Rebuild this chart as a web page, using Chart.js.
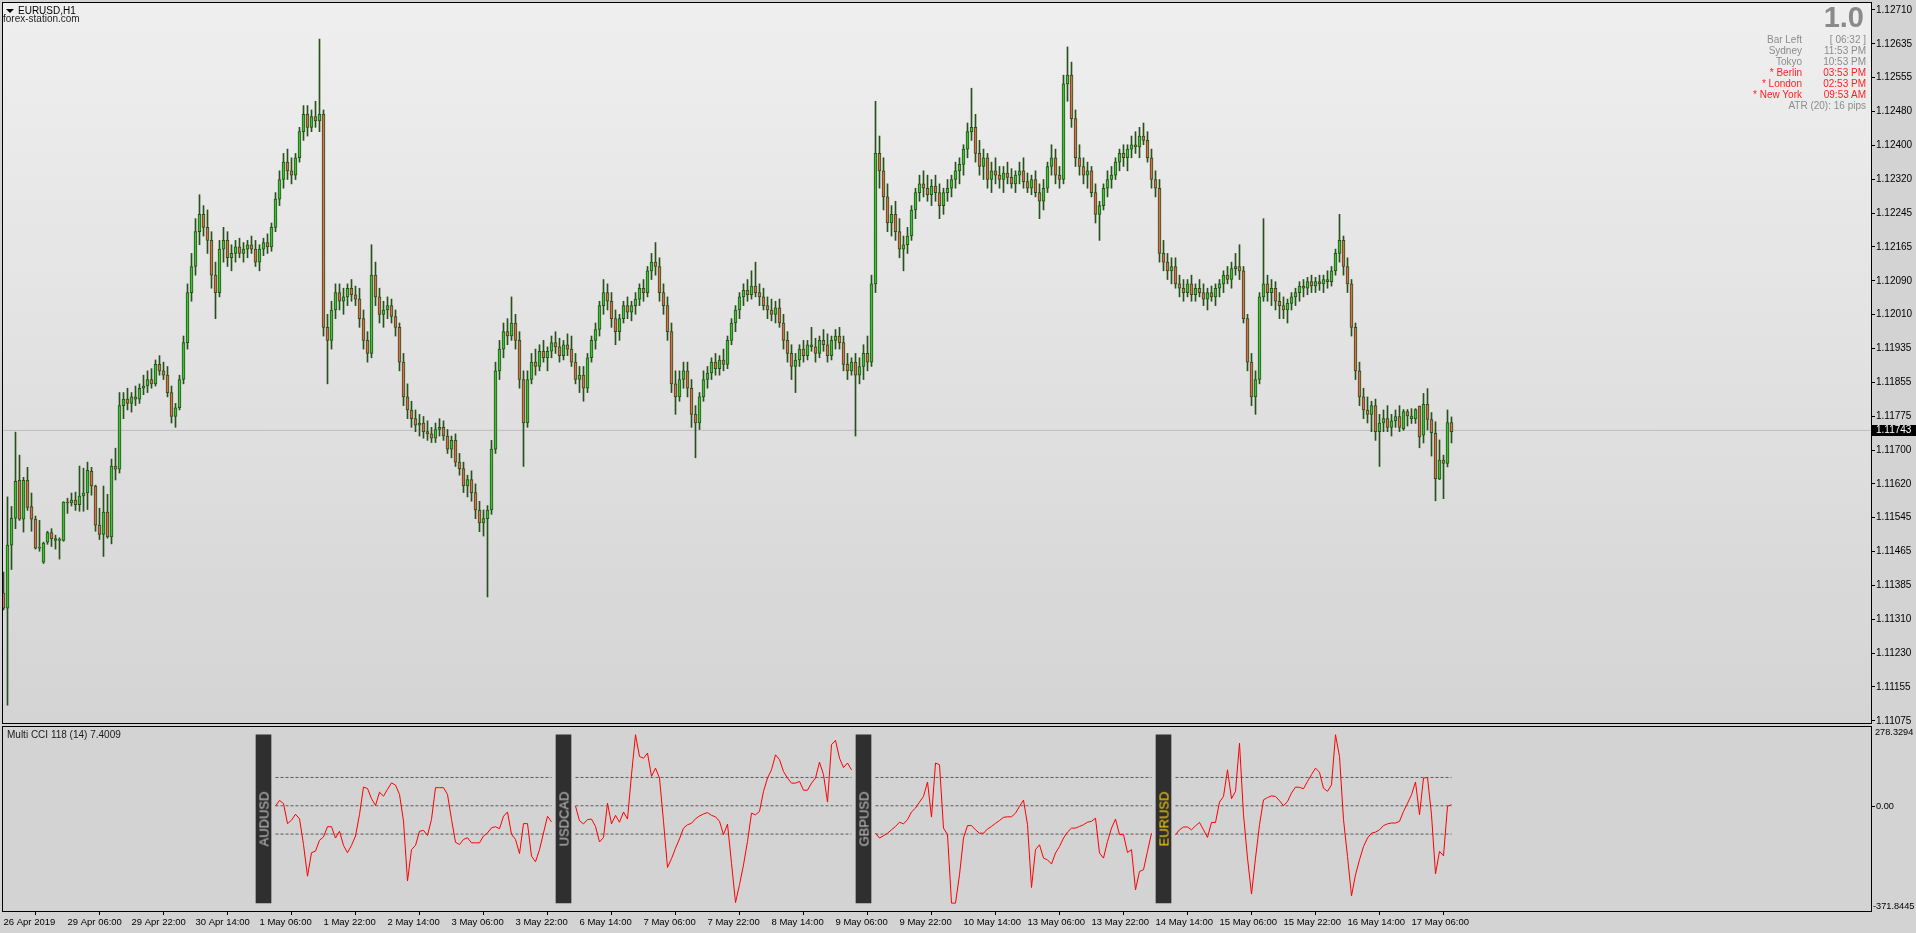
<!DOCTYPE html>
<html lang="en">
<head>
<meta charset="UTF-8" />
<title>EURUSD,H1</title>
<script src="https://cdn.jsdelivr.net/npm/chart.js"></script>
<style>
  body {
    margin: 0;
    width: 1916px;
    height: 933px;
    overflow: hidden;
    position: relative;
    background: #d3d3d3;
    font-family: 'Liberation Sans', Arial, sans-serif;
  }
  #mainBox { position: absolute; left: 0; top: 0; width: 1916px; height: 724px; }
  #subBox { position: absolute; left: 0; top: 724px; width: 1916px; height: 209px; }
  .txt { position: absolute; font-size: 10px; line-height: 11px; white-space: nowrap; }
  #tri {
    position: absolute; left: 6px; top: 9px; width: 0; height: 0;
    border-left: 4px solid transparent; border-right: 4px solid transparent; border-top: 4px solid #000;
  }
  #bigNum {
    position: absolute; right: 52px; top: 3px;
    font: bold 29px/29px 'Liberation Sans', Arial, sans-serif; color: #8a8a8a;
  }
  #clock { position: absolute; left: 1700px; top: 34px; width: 166px; }
  #clock .row { position: relative; height: 11px; font-size: 10px; line-height: 11px; white-space: nowrap; }
  #clock .lbl { position: absolute; right: 64px; }
  #clock .val { position: absolute; right: 0; }
  .grey { color: #8c8c8c; }
  .red { color: #ff1f1f; }
  .pair {
    position: absolute; font-size: 13px; line-height: 13px; white-space: nowrap;
    transform: translate(-50%, -50%) rotate(-90deg);
  }
</style>
</head>
<body>

<div id="mainBox"><canvas id="mainChart" width="1916" height="724"></canvas></div>
<div id="subBox"><canvas id="subChart" width="1916" height="209"></canvas></div>

<div id="tri"></div>
<div class="txt" style="left:18px; top:5px; color:#000;">EURUSD,H1</div>
<div class="txt" style="left:3px; top:13px; color:#1e1e1e;">forex-station.com</div>

<div id="bigNum">1.0</div>
<div id="clock">
  <div class="row grey"><span class="lbl">Bar Left</span><span class="val">[ 06:32 ]</span></div>
  <div class="row grey"><span class="lbl">Sydney</span><span class="val">11:53 PM</span></div>
  <div class="row grey"><span class="lbl">Tokyo</span><span class="val">10:53 PM</span></div>
  <div class="row red"><span class="lbl">* Berlin</span><span class="val">03:53 PM</span></div>
  <div class="row red"><span class="lbl">* London</span><span class="val">02:53 PM</span></div>
  <div class="row red"><span class="lbl">* New York</span><span class="val">09:53 AM</span></div>
  <div class="row grey"><span class="val">ATR (20): 16 pips</span></div>
</div>

<div class="txt" style="left:7px; top:729px; color:#1a1a1a;">Multi CCI 118 (14) 7.4009</div>

<script>
  // ---- price axis / time axis ----
  const priceLabels = ['1.12710','1.12635','1.12555','1.12480','1.12400','1.12320','1.12245','1.12165','1.12090','1.12010','1.11935',
                       '1.11855','1.11775','1.11700','1.11620','1.11545','1.11465','1.11385','1.11310','1.11230','1.11155','1.11075'];
  const priceMin = 1.11070;
  const priceMax = 1.12726;
  const bidPrice = 1.11743;

  const timeLabels = ['26 Apr 2019','29 Apr 06:00','29 Apr 22:00','30 Apr 14:00','1 May 06:00','1 May 22:00','2 May 14:00','3 May 06:00',
                      '3 May 22:00','6 May 14:00','7 May 06:00','7 May 22:00','8 May 14:00','9 May 06:00','9 May 22:00','10 May 14:00',
                      '13 May 06:00','13 May 22:00','14 May 14:00','15 May 06:00','15 May 22:00','16 May 14:00','17 May 06:00'];
  const tickBars = [0,16,32,48,64,80,96,112,128,144,160,176,192,208,224,240,256,272,288,304,320,336,352];

  // ---- EURUSD H1 candles (bar 0 = 26 Apr 14:00) ----
  const opens = [
    1.11369,1.11334,1.11479,1.11541,1.11628,1.11539,1.11628,1.11568,1.11539,1.11472,
    1.11440,1.11486,1.11508,1.11494,1.11490,1.11490,1.11578,1.11576,1.11583,1.11572,
    1.11592,1.11599,1.11649,1.11615,1.11525,1.11504,1.11555,1.11498,1.11661,1.11654,
    1.11800,1.11815,1.11805,1.11820,1.11815,1.11840,1.11845,1.11860,1.11850,1.11895,
    1.11880,1.11870,1.11830,1.11775,1.11795,1.11860,1.11945,1.12060,1.12120,1.12200,
    1.12240,1.12210,1.12180,1.12100,1.12060,1.12160,1.12180,1.12140,1.12150,1.12165,
    1.12150,1.12160,1.12170,1.12160,1.12130,1.12160,1.12175,1.12165,1.12210,1.12275,
    1.12320,1.12360,1.12340,1.12330,1.12370,1.12430,1.12470,1.12440,1.12465,1.12455,
    1.12470,1.11980,1.11950,1.12020,1.12060,1.12040,1.12050,1.12070,1.12055,1.12045,
    1.12000,1.11950,1.11920,1.12100,1.12050,1.12010,1.12020,1.12030,1.12005,1.11980,
    1.11900,1.11820,1.11790,1.11770,1.11755,1.11760,1.11740,1.11735,1.11725,1.11745,
    1.11750,1.11730,1.11700,1.11720,1.11670,1.11655,1.11615,1.11630,1.11600,1.11560,
    1.11530,1.11540,1.11560,1.11700,1.11880,1.11930,1.11970,1.11960,1.11990,1.11950,
    1.11860,1.11760,1.11860,1.11900,1.11890,1.11925,1.11910,1.11925,1.11945,1.11935,
    1.11915,1.11940,1.11930,1.11900,1.11860,1.11870,1.11840,1.11910,1.11950,1.11975,
    1.12030,1.12060,1.12040,1.12000,1.11970,1.12000,1.12030,1.12015,1.12030,1.12045,
    1.12070,1.12060,1.12110,1.12130,1.12120,1.12060,1.12030,1.11970,1.11850,1.11820,
    1.11860,1.11880,1.11840,1.11780,1.11760,1.11820,1.11860,1.11875,1.11900,1.11885,
    1.11905,1.11895,1.11950,1.11990,1.12020,1.12050,1.12065,1.12055,1.12075,1.12060,
    1.12050,1.12030,1.12020,1.12010,1.12025,1.11990,1.11950,1.11920,1.11890,1.11905,
    1.11930,1.11915,1.11940,1.11935,1.11920,1.11950,1.11940,1.11915,1.11950,1.11960,
    1.11945,1.11895,1.11880,1.11900,1.11870,1.11890,1.11920,1.11900,1.12080,1.12380,
    1.12340,1.12280,1.12220,1.12240,1.12200,1.12160,1.12170,1.12190,1.12250,1.12290,
    1.12310,1.12300,1.12285,1.12305,1.12290,1.12260,1.12290,1.12300,1.12320,1.12340,
    1.12355,1.12390,1.12430,1.12440,1.12380,1.12350,1.12370,1.12320,1.12340,1.12330,
    1.12320,1.12335,1.12325,1.12310,1.12330,1.12340,1.12315,1.12300,1.12320,1.12290,
    1.12270,1.12300,1.12350,1.12370,1.12330,1.12320,1.12540,1.12560,1.12460,1.12370,
    1.12350,1.12330,1.12340,1.12290,1.12240,1.12260,1.12300,1.12320,1.12330,1.12360,
    1.12380,1.12370,1.12390,1.12400,1.12395,1.12420,1.12410,1.12370,1.12320,1.12300,
    1.12150,1.12130,1.12110,1.12120,1.12080,1.12070,1.12060,1.12080,1.12055,1.12070,
    1.12060,1.12045,1.12060,1.12050,1.12070,1.12080,1.12100,1.12090,1.12115,1.12120,
    1.12110,1.12000,1.11900,1.11820,1.11860,1.12050,1.12080,1.12060,1.12070,1.12040,
    1.12030,1.12020,1.12035,1.12050,1.12060,1.12075,1.12070,1.12085,1.12075,1.12085,
    1.12080,1.12090,1.12085,1.12110,1.12150,1.12180,1.12120,1.12080,1.11980,1.11880,
    1.11820,1.11790,1.11780,1.11800,1.11740,1.11760,1.11770,1.11750,1.11765,1.11775,
    1.11747,1.11786,1.11770,1.11770,1.11799,1.11732,1.11803,1.11768,1.11736,1.11631,
    1.11675,1.11667,1.11761
  ];
  const highs = [
    1.11417,1.11590,1.11568,1.11739,1.11686,1.11635,1.11658,1.11599,1.11546,1.11536,
    1.11486,1.11511,1.11517,1.11502,1.11496,1.11579,1.11587,1.11599,1.11601,1.11661,
    1.11656,1.11670,1.11658,1.11617,1.11564,1.11615,1.11596,1.11677,1.11702,1.11830,
    1.11830,1.11840,1.11830,1.11845,1.11850,1.11870,1.11880,1.11885,1.11905,1.11915,
    1.11900,1.11890,1.11845,1.11805,1.11870,1.11960,1.12080,1.12150,1.12230,1.12285,
    1.12260,1.12250,1.12200,1.12130,1.12180,1.12210,1.12200,1.12170,1.12180,1.12185,
    1.12175,1.12180,1.12190,1.12180,1.12170,1.12185,1.12195,1.12220,1.12290,1.12340,
    1.12380,1.12390,1.12370,1.12380,1.12440,1.12490,1.12490,1.12480,1.12500,1.12643,
    1.12480,1.12010,1.12040,1.12080,1.12080,1.12070,1.12080,1.12090,1.12075,1.12070,
    1.12020,1.11970,1.12170,1.12130,1.12070,1.12040,1.12050,1.12045,1.12020,1.11990,
    1.11920,1.11850,1.11810,1.11790,1.11780,1.11775,1.11765,1.11750,1.11760,1.11770,
    1.11765,1.11745,1.11730,1.11735,1.11690,1.11670,1.11640,1.11650,1.11620,1.11580,
    1.11560,1.11570,1.11720,1.11900,1.11950,1.11990,1.12000,1.12050,1.12010,1.11970,
    1.11880,1.11880,1.11920,1.11930,1.11940,1.11950,1.11935,1.11960,1.11970,1.11955,
    1.11950,1.11965,1.11960,1.11920,1.11890,1.11890,1.11920,1.11960,1.11990,1.12040,
    1.12090,1.12080,1.12060,1.12020,1.12010,1.12040,1.12050,1.12040,1.12060,1.12080,
    1.12090,1.12120,1.12150,1.12175,1.12140,1.12080,1.12050,1.11990,1.11880,1.11880,
    1.11900,1.11900,1.11860,1.11800,1.11830,1.11880,1.11890,1.11910,1.11920,1.11915,
    1.11930,1.11960,1.12000,1.12030,1.12060,1.12080,1.12090,1.12110,1.12130,1.12080,
    1.12070,1.12050,1.12045,1.12040,1.12045,1.12010,1.11970,1.11940,1.11920,1.11940,
    1.11950,1.11950,1.11980,1.11955,1.11960,1.11975,1.11965,1.11960,1.11975,1.11980,
    1.11960,1.11920,1.11910,1.11920,1.11910,1.11940,1.11960,1.12100,1.12500,1.12420,
    1.12370,1.12310,1.12260,1.12270,1.12230,1.12190,1.12210,1.12260,1.12300,1.12330,
    1.12340,1.12330,1.12320,1.12330,1.12310,1.12300,1.12320,1.12330,1.12360,1.12370,
    1.12400,1.12450,1.12530,1.12470,1.12410,1.12390,1.12380,1.12360,1.12370,1.12350,
    1.12350,1.12360,1.12345,1.12340,1.12360,1.12370,1.12335,1.12330,1.12340,1.12310,
    1.12320,1.12360,1.12400,1.12390,1.12350,1.12560,1.12625,1.12590,1.12480,1.12400,
    1.12370,1.12360,1.12350,1.12310,1.12270,1.12310,1.12340,1.12350,1.12370,1.12390,
    1.12400,1.12400,1.12420,1.12430,1.12440,1.12450,1.12430,1.12390,1.12340,1.12320,
    1.12180,1.12150,1.12140,1.12140,1.12100,1.12090,1.12090,1.12100,1.12080,1.12090,
    1.12080,1.12070,1.12075,1.12080,1.12090,1.12110,1.12120,1.12130,1.12150,1.12170,
    1.12120,1.12010,1.11920,1.11880,1.12060,1.12230,1.12100,1.12090,1.12085,1.12060,
    1.12050,1.12045,1.12060,1.12070,1.12085,1.12090,1.12095,1.12100,1.12095,1.12100,
    1.12100,1.12110,1.12120,1.12160,1.12240,1.12190,1.12140,1.12090,1.11990,1.11900,
    1.11840,1.11820,1.11810,1.11815,1.11780,1.11790,1.11800,1.11780,1.11790,1.11800,
    1.11791,1.11791,1.11793,1.11793,1.11799,1.11828,1.11839,1.11784,1.11763,1.11721,
    1.11686,1.11790,1.11774
  ];
  const lows = [
    1.11330,1.11111,1.11423,1.11517,1.11536,1.11509,1.11559,1.11511,1.11470,1.11465,
    1.11437,1.11481,1.11476,1.11470,1.11447,1.11488,1.11552,1.11569,1.11559,1.11557,
    1.11557,1.11561,1.11594,1.11511,1.11492,1.11453,1.11495,1.11482,1.11629,1.11645,
    1.11770,1.11790,1.11785,1.11800,1.11805,1.11825,1.11830,1.11840,1.11845,1.11870,
    1.11860,1.11820,1.11760,1.11750,1.11790,1.11850,1.11930,1.12040,1.12100,1.12170,
    1.12190,1.12150,1.12070,1.12000,1.12050,1.12130,1.12120,1.12110,1.12130,1.12140,
    1.12130,1.12140,1.12150,1.12120,1.12110,1.12145,1.12150,1.12155,1.12200,1.12260,
    1.12300,1.12320,1.12310,1.12320,1.12360,1.12410,1.12420,1.12430,1.12440,1.12430,
    1.11960,1.11850,1.11930,1.12000,1.12020,1.12010,1.12030,1.12040,1.12030,1.11980,
    1.11930,1.11900,1.11910,1.12030,1.11990,1.11980,1.12000,1.11990,1.11960,1.11880,
    1.11800,1.11770,1.11750,1.11740,1.11730,1.11725,1.11720,1.11715,1.11715,1.11730,
    1.11720,1.11690,1.11680,1.11660,1.11640,1.11600,1.11590,1.11580,1.11540,1.11510,
    1.11500,1.11360,1.11550,1.11690,1.11860,1.11910,1.11940,1.11950,1.11930,1.11840,
    1.11660,1.11750,1.11850,1.11870,1.11880,1.11900,1.11880,1.11910,1.11920,1.11900,
    1.11905,1.11915,1.11890,1.11850,1.11830,1.11810,1.11830,1.11900,1.11930,1.11960,
    1.12010,1.12020,1.11980,1.11940,1.11950,1.11990,1.12000,1.11995,1.12010,1.12030,
    1.12040,1.12050,1.12090,1.12100,1.12040,1.12010,1.11950,1.11830,1.11780,1.11810,
    1.11840,1.11820,1.11750,1.11680,1.11745,1.11810,1.11840,1.11860,1.11870,1.11870,
    1.11880,1.11885,1.11940,1.11970,1.12000,1.12030,1.12040,1.12045,1.12050,1.12030,
    1.12020,1.12000,1.11995,1.11990,1.11980,1.11930,1.11900,1.11860,1.11830,1.11890,
    1.11900,1.11905,1.11925,1.11900,1.11910,1.11925,1.11900,1.11905,1.11930,1.11930,
    1.11880,1.11860,1.11870,1.11730,1.11850,1.11860,1.11880,1.11890,1.12060,1.12300,
    1.12250,1.12200,1.12190,1.12180,1.12140,1.12110,1.12150,1.12180,1.12230,1.12270,
    1.12280,1.12270,1.12260,1.12270,1.12230,1.12240,1.12270,1.12280,1.12300,1.12310,
    1.12330,1.12370,1.12410,1.12360,1.12330,1.12320,1.12300,1.12290,1.12310,1.12300,
    1.12290,1.12310,1.12300,1.12290,1.12310,1.12300,1.12290,1.12285,1.12280,1.12230,
    1.12250,1.12290,1.12330,1.12310,1.12300,1.12310,1.12500,1.12440,1.12350,1.12330,
    1.12310,1.12300,1.12280,1.12220,1.12180,1.12250,1.12280,1.12300,1.12320,1.12340,
    1.12350,1.12340,1.12370,1.12380,1.12370,1.12400,1.12360,1.12300,1.12280,1.12130,
    1.12110,1.12090,1.12080,1.12070,1.12050,1.12040,1.12050,1.12040,1.12040,1.12050,
    1.12030,1.12020,1.12040,1.12030,1.12050,1.12060,1.12080,1.12070,1.12100,1.12090,
    1.11990,1.11880,1.11800,1.11780,1.11850,1.12040,1.12040,1.12030,1.12020,1.12000,
    1.12000,1.11990,1.12020,1.12030,1.12040,1.12050,1.12055,1.12060,1.12060,1.12065,
    1.12060,1.12070,1.12075,1.12100,1.12130,1.12100,1.12060,1.11960,1.11860,1.11800,
    1.11770,1.11760,1.11740,1.11720,1.11660,1.11740,1.11740,1.11730,1.11750,1.11740,
    1.11743,1.11753,1.11759,1.11759,1.11703,1.11714,1.11744,1.11684,1.11581,1.11630,
    1.11586,1.11659,1.11714
  ];
  const closes = [
    1.11334,1.11479,1.11541,1.11626,1.11539,1.11628,1.11566,1.11539,1.11472,1.11474,
    1.11484,1.11508,1.11494,1.11490,1.11490,1.11578,1.11576,1.11583,1.11572,1.11592,
    1.11599,1.11651,1.11615,1.11525,1.11504,1.11555,1.11498,1.11661,1.11654,1.11800,
    1.11815,1.11805,1.11820,1.11815,1.11840,1.11845,1.11860,1.11850,1.11895,1.11880,
    1.11870,1.11830,1.11775,1.11795,1.11860,1.11945,1.12060,1.12120,1.12200,1.12240,
    1.12210,1.12180,1.12100,1.12060,1.12160,1.12180,1.12140,1.12150,1.12165,1.12150,
    1.12160,1.12170,1.12160,1.12130,1.12160,1.12175,1.12165,1.12210,1.12275,1.12320,
    1.12360,1.12340,1.12330,1.12370,1.12430,1.12470,1.12440,1.12465,1.12455,1.12470,
    1.11980,1.11950,1.12020,1.12060,1.12040,1.12050,1.12070,1.12055,1.12045,1.12000,
    1.11950,1.11920,1.12100,1.12050,1.12010,1.12020,1.12030,1.12005,1.11980,1.11900,
    1.11820,1.11790,1.11770,1.11755,1.11760,1.11740,1.11735,1.11725,1.11745,1.11750,
    1.11730,1.11700,1.11720,1.11670,1.11655,1.11615,1.11630,1.11600,1.11560,1.11530,
    1.11540,1.11560,1.11700,1.11880,1.11930,1.11970,1.11960,1.11990,1.11950,1.11860,
    1.11760,1.11860,1.11900,1.11890,1.11925,1.11910,1.11925,1.11945,1.11935,1.11915,
    1.11940,1.11930,1.11900,1.11860,1.11870,1.11840,1.11910,1.11950,1.11975,1.12030,
    1.12060,1.12040,1.12000,1.11970,1.12000,1.12030,1.12015,1.12030,1.12045,1.12070,
    1.12060,1.12110,1.12130,1.12120,1.12060,1.12030,1.11970,1.11850,1.11820,1.11860,
    1.11880,1.11840,1.11780,1.11760,1.11820,1.11860,1.11875,1.11900,1.11885,1.11905,
    1.11895,1.11950,1.11990,1.12020,1.12050,1.12065,1.12055,1.12075,1.12060,1.12050,
    1.12030,1.12020,1.12010,1.12025,1.11990,1.11950,1.11920,1.11890,1.11905,1.11930,
    1.11915,1.11940,1.11935,1.11920,1.11950,1.11940,1.11915,1.11950,1.11960,1.11945,
    1.11895,1.11880,1.11900,1.11870,1.11890,1.11920,1.11900,1.12080,1.12380,1.12340,
    1.12280,1.12220,1.12240,1.12200,1.12160,1.12170,1.12190,1.12250,1.12290,1.12310,
    1.12300,1.12285,1.12305,1.12290,1.12260,1.12290,1.12300,1.12320,1.12340,1.12355,
    1.12390,1.12430,1.12440,1.12380,1.12350,1.12370,1.12320,1.12340,1.12330,1.12320,
    1.12335,1.12325,1.12310,1.12330,1.12340,1.12315,1.12300,1.12320,1.12290,1.12270,
    1.12300,1.12350,1.12370,1.12330,1.12320,1.12540,1.12560,1.12460,1.12370,1.12350,
    1.12330,1.12340,1.12290,1.12240,1.12260,1.12300,1.12320,1.12330,1.12360,1.12380,
    1.12370,1.12390,1.12400,1.12395,1.12420,1.12410,1.12370,1.12320,1.12300,1.12150,
    1.12130,1.12110,1.12120,1.12080,1.12070,1.12060,1.12080,1.12055,1.12070,1.12060,
    1.12045,1.12060,1.12050,1.12070,1.12080,1.12100,1.12090,1.12115,1.12120,1.12110,
    1.12000,1.11900,1.11820,1.11860,1.12050,1.12080,1.12060,1.12070,1.12040,1.12030,
    1.12020,1.12035,1.12050,1.12060,1.12075,1.12070,1.12085,1.12075,1.12085,1.12080,
    1.12090,1.12085,1.12110,1.12150,1.12180,1.12120,1.12080,1.11980,1.11880,1.11820,
    1.11790,1.11780,1.11800,1.11740,1.11760,1.11770,1.11750,1.11765,1.11775,1.11750,
    1.11786,1.11776,1.11776,1.11791,1.11728,1.11803,1.11768,1.11738,1.11632,1.11675,
    1.11667,1.11761,1.11740
  ];

  // ---- Multi CCI panel ----
  const cciMax = 278.3294;
  const cciMin = -371.8445;
  const cciLevels = [100, 0, -100];
  const pairNames = ['AUDUSD', 'USDCAD', 'GBPUSD', 'EURUSD'];
  const pairColors = ['#c4c4c4', '#c4c4c4', '#c4c4c4', '#ffd200'];
  const pairBoxBar = [65, 140, 215, 290];
  const pairStartBar = [68, 143, 218, 293];
  const pairBoxRange = [-343, 251];

  const cciAUDUSD = [
    -1,19,8,-63,-51,-30,-46,-137,-249,-166,-160,-122,-110,-74,-74,-114,-90,-140,-166,-140,
    -107,-31,66,61,25,1,48,34,58,81,73,40,-54,-266,-155,-140,-90,-87,-105,-48,
    64,64,64,40,-48,-129,-137,-119,-113,-131,-131,-131,-107,-96,-78,-74,-81,-37,-22,-101,
    -119,-169,-63,-63,-178,-198,-155,-96,-37,-57
  ];
  const cciUSDCAD = [
    -1,-53,-64,-49,-47,-73,-128,-112,9,-64,-34,-58,-22,-47,110,251,174,168,186,104,
    133,98,-55,-218,-187,-150,-117,-79,-67,-62,-46,-36,-29,-24,-34,-39,-55,-102,-65,-203,
    -342,-279,-209,-126,-26,-32,-20,51,98,127,180,163,121,98,80,80,86,55,55,80,
    98,154,110,13,216,231,168,135,151,127
  ];
  const cciGBPUSD = [
    -97,-114,-106,-97,-85,-73,-58,-64,-49,-22,-8,13,33,84,-40,151,145,-79,-102,-344,
    -344,-244,-114,-70,-70,-85,-97,-97,-82,-73,-62,-52,-41,-39,-39,-26,-2,20,-67,-289,
    -155,-138,-185,-191,-206,-167,-144,-114,-93,-79,-79,-73,-67,-58,-55,-44,-167,-185,-126,-79,
    -47,-102,-102,-165,-155,-297,-232,-226,-161,-97
  ];
  const cciEURUSD = [
    -102,-85,-75,-75,-85,-71,-59,-85,-112,-59,-59,13,33,127,25,51,221,-32,-185,-312,
    -185,-67,21,29,35,33,18,0,15,45,66,65,60,86,110,133,118,62,51,74,
    251,174,-49,-179,-318,-244,-191,-144,-114,-97,-93,-85,-70,-64,-61,-61,-55,-20,9,39,
    84,-32,98,100,-32,-241,-161,-177,-2,4
  ];
  const cciSeries = [cciAUDUSD, cciUSDCAD, cciGBPUSD, cciEURUSD];

  // ---- shared x range: bar i sits at pixel 3.5 + 4*i ----
  const xMin = -0.125;
  const xMax = 466.875;

  const upFill = '#3cc232';
  const downFill = '#e06a4c';
  const candleEdge = '#27521b';

  Chart.defaults.font.family = "'Liberation Sans', Arial, sans-serif";
  Chart.defaults.font.size = 10;
  Chart.defaults.color = '#000';
  Chart.defaults.animation = false;

  const panelPlugin = {
    id: 'panel',
    beforeDraw(chart, args, opts) {
      const { ctx, chartArea: a } = chart;
      ctx.save();
      if (opts.gradient) {
        const g = ctx.createLinearGradient(0, a.top, 0, a.bottom);
        g.addColorStop(0, '#efefef');
        g.addColorStop(1, '#d4d4d4');
        ctx.fillStyle = g;
      } else {
        ctx.fillStyle = '#d3d3d3';
      }
      ctx.fillRect(a.left, a.top, a.width, a.height);
      ctx.restore();
    },
    afterDraw(chart) {
      const { ctx, chartArea: a } = chart;
      ctx.save();
      ctx.strokeStyle = '#000';
      ctx.lineWidth = 1;
      ctx.strokeRect(a.left - 0.5, a.top - 0.5, a.width + 1, a.height + 1);
      ctx.restore();
    }
  };

  const bidPlugin = {
    id: 'bid',
    afterDraw(chart) {
      const { ctx, chartArea: a, scales: { y } } = chart;
      const py = Math.round(y.getPixelForValue(bidPrice));
      ctx.save();
      ctx.fillStyle = '#000';
      ctx.fillRect(a.right + 1, py - 5, 45, 11);
      ctx.fillStyle = '#fff';
      ctx.font = "10px 'Liberation Sans', Arial, sans-serif";
      ctx.textBaseline = 'middle';
      ctx.fillText(bidPrice.toFixed(5), a.right + 5, py + 0.5);
      ctx.restore();
    }
  };

  const cciAxisPlugin = {
    id: 'cciAxis',
    afterDraw(chart) {
      const { ctx, chartArea: a, scales: { y } } = chart;
      const y0 = Math.round(y.getPixelForValue(0)) + 0.5;
      ctx.save();
      ctx.strokeStyle = '#000';
      ctx.beginPath();
      ctx.moveTo(a.right, y0);
      ctx.lineTo(a.right + 4, y0);
      ctx.stroke();
      ctx.fillStyle = '#000';
      ctx.font = "9.2px 'Liberation Sans', Arial, sans-serif";
      ctx.textAlign = 'left';
      ctx.textBaseline = 'top';
      ctx.fillText(cciMax.toFixed(4), a.right + 4, a.top + 1);
      ctx.textBaseline = 'middle';
      ctx.fillText('0.00', a.right + 5, y0);
      ctx.textBaseline = 'bottom';
      ctx.fillText(cciMin.toFixed(4), a.right + 2, a.bottom);
      ctx.restore();
    }
  };

  // ---- main price chart ----
  const wickData = highs.map((h, i) => ({ x: i, y: [lows[i], h] }));
  const bodyData = opens.map((o, i) => ({ x: i, y: [o, closes[i]] }));
  const bodyColors = opens.map((o, i) => (closes[i] >= o ? upFill : downFill));

  const priceTop = parseFloat(priceLabels[0]);
  const priceBottom = parseFloat(priceLabels[priceLabels.length - 1]);

  new Chart(document.getElementById('mainChart'), {
    type: 'bar',
    data: {
      datasets: [
        {
          type: 'line',
          data: [{ x: xMin, y: bidPrice }, { x: xMax, y: bidPrice }],
          borderColor: '#bdbdbd', borderWidth: 1, pointRadius: 0, order: 3
        },
        { data: wickData, backgroundColor: candleEdge, barThickness: 1, grouped: false, order: 2 },
        {
          data: bodyData, backgroundColor: bodyColors, borderColor: candleEdge, borderWidth: 1,
          borderSkipped: false, barThickness: 3, grouped: false, minBarLength: 1, order: 1
        }
      ]
    },
    options: {
      responsive: false,
      events: [],
      layout: { padding: { left: 3, top: 3, right: 0, bottom: 1 } },
      plugins: { legend: { display: false }, tooltip: { enabled: false }, panel: { gradient: true } },
      scales: {
        x: { type: 'linear', min: xMin, max: xMax, offset: false, display: false },
        y: {
          position: 'right', min: priceMin, max: priceMax,
          afterBuildTicks: s => {
            s.ticks = priceLabels.map((t, k) => ({ value: priceTop - k * (priceTop - priceBottom) / (priceLabels.length - 1) }));
          },
          afterFit: s => { s.width = 45; s.paddingTop = 0; s.paddingBottom = 0; },
          ticks: { autoSkip: false, padding: 1, color: '#000', callback: (v, k) => priceLabels[k] },
          grid: { drawOnChartArea: false, drawTicks: true, tickLength: 4, color: '#000' },
          border: { display: false }
        }
      }
    },
    plugins: [panelPlugin, bidPlugin]
  });

  // ---- Multi CCI sub window ----
  const subSets = [];
  cciSeries.forEach((vals, s) => {
    subSets.push({
      type: 'line',
      data: vals.map((v, k) => ({ x: pairStartBar[s] + k, y: v })),
      borderColor: '#ff0000', borderWidth: 1, pointRadius: 0, tension: 0, order: 1
    });
  });
  cciLevels.forEach(lv => {
    const pts = [];
    cciSeries.forEach((vals, s) => {
      pts.push({ x: pairStartBar[s], y: lv }, { x: pairStartBar[s] + vals.length - 1, y: lv }, { x: pairStartBar[s] + vals.length - 0.5, y: null });
    });
    subSets.push({
      type: 'line', data: pts, borderColor: '#5a5a5a', borderWidth: 1, borderDash: [3, 2],
      pointRadius: 0, spanGaps: false, order: 2
    });
  });
  subSets.push({
    type: 'bar',
    data: pairBoxBar.map(b => ({ x: b, y: pairBoxRange })),
    backgroundColor: '#2f2f2f', barThickness: 15, grouped: false, order: 3
  });

  const subChart = new Chart(document.getElementById('subChart'), {
    type: 'line',
    data: { datasets: subSets },
    options: {
      responsive: false,
      events: [],
      layout: { padding: { left: 3, top: 3, right: 0, bottom: 0 } },
      plugins: { legend: { display: false }, tooltip: { enabled: false }, panel: { gradient: false } },
      scales: {
        x: {
          type: 'linear', min: xMin, max: xMax, offset: false,
          afterBuildTicks: s => { s.ticks = tickBars.map(v => ({ value: v })); },
          afterFit: s => { s.height = 22; s.paddingLeft = 0; s.paddingRight = 0; },
          ticks: {
            autoSkip: false, maxRotation: 0, align: 'start', padding: 2, color: '#000',
            font: { size: 9.5 }, callback: (v, k) => timeLabels[k]
          },
          grid: { drawOnChartArea: false, drawTicks: true, tickLength: 4, color: '#000' },
          border: { display: false }
        },
        y: {
          position: 'right', min: cciMin, max: cciMax,
          afterFit: s => { s.width = 45; s.paddingTop = 0; s.paddingBottom = 0; },
          ticks: { display: false },
          grid: { display: false },
          border: { display: false }
        }
      }
    },
    plugins: [panelPlugin, cciAxisPlugin]
  });

  // vertical pair names on the dark boxes
  pairNames.forEach((name, k) => {
    const el = document.createElement('div');
    el.className = 'pair';
    el.textContent = name;
    el.style.color = pairColors[k];
    el.style.left = subChart.scales.x.getPixelForValue(pairBoxBar[k]) + 'px';
    el.style.top = (724 + subChart.scales.y.getPixelForValue((pairBoxRange[0] + pairBoxRange[1]) / 2)) + 'px';
    document.body.appendChild(el);
  });
</script>

</body>
</html>
